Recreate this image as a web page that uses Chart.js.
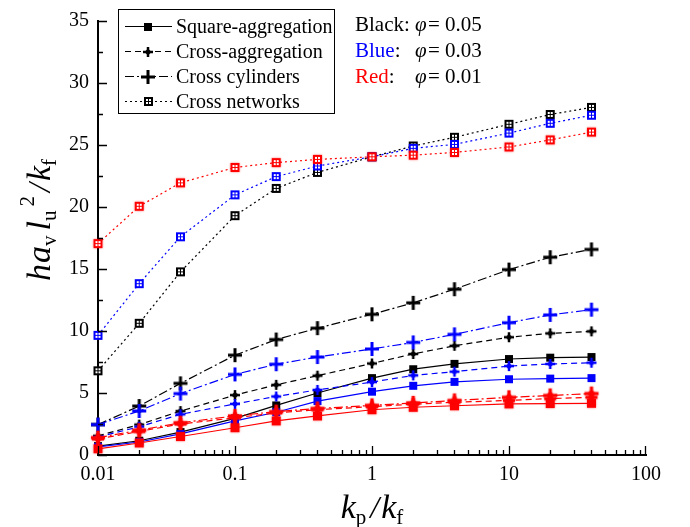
<!DOCTYPE html>
<html>
<head>
<meta charset="utf-8">
<script src="https://cdn.jsdelivr.net/npm/chart.js@4"></script>
<style>
  html, body { margin: 0; padding: 0; background: #fff; }
  canvas { display: block; }
</style>
</head>
<body>
<canvas id="chart" width="690" height="527"></canvas>
<script>
// Conductivity ratio kp/kf (x values shared by every series)
const ratio = [0.01, 0.02, 0.04, 0.1, 0.2, 0.4, 1, 2, 4, 10, 20, 40];

// Square-aggregation
const squareBlack = [0.72, 1.15, 1.85, 2.95, 4.0, 5.0, 6.2, 6.92, 7.35, 7.74, 7.85, 7.9];
const squareBlue  = [0.65, 1.05, 1.7, 2.75, 3.45, 4.35, 5.11, 5.58, 5.9, 6.11, 6.16, 6.2];
const squareRed   = [0.5, 0.97, 1.49, 2.2, 2.75, 3.15, 3.65, 3.85, 3.97, 4.12, 4.15, 4.17];

// Cross-aggregation
const crossAggBlack = [1.55, 2.45, 3.54, 4.83, 5.66, 6.4, 7.38, 8.15, 8.81, 9.5, 9.81, 9.97];
const crossAggBlue  = [1.45, 2.28, 3.28, 4.12, 4.72, 5.25, 5.88, 6.42, 6.72, 7.17, 7.34, 7.44];
const crossAggRed   = [1.3, 1.9, 2.5, 3.0, 3.4, 3.65, 3.9, 4.1, 4.25, 4.4, 4.55, 4.65];

// Cross cylinders
const cylBlack = [2.45, 3.95, 5.78, 8.05, 9.31, 10.23, 11.35, 12.27, 13.37, 14.95, 15.95, 16.58];
const cylBlue  = [2.45, 3.55, 4.95, 6.5, 7.32, 7.9, 8.55, 9.08, 9.73, 10.67, 11.3, 11.72];
const cylRed   = [1.4, 2.0, 2.6, 3.15, 3.5, 3.75, 4.0, 4.2, 4.4, 4.65, 4.8, 4.95];

// Cross networks
const netBlack = [6.79, 10.62, 14.77, 19.3, 21.5, 22.79, 24.05, 24.92, 25.62, 26.67, 27.46, 28.03];
const netBlue  = [9.65, 13.82, 17.6, 20.98, 22.45, 23.31, 24.05, 24.73, 25.05, 25.96, 26.75, 27.4];
const netRed   = [17.05, 20.06, 21.95, 23.19, 23.58, 23.84, 24.05, 24.18, 24.4, 24.84, 25.41, 26.04];

const xTickValues = [0.01, 0.1, 1, 10, 100];
const legendNames = ['Square-aggregation', 'Cross-aggregation', 'Cross cylinders', 'Cross networks'];

const BLACK = '#000000', BLUE = '#0000ff', RED = '#ff0000';
const SERIF = '"Liberation Serif", "Times New Roman", serif';

// ---------- marker images ----------
function makeMarker(size, color, paint) {
  const pad = 3;
  const c = document.createElement('canvas');
  c.width = size + pad * 2;
  c.height = size + pad * 2;
  const g = c.getContext('2d');
  if (color === RED) {
    g.shadowColor = 'rgba(255,0,0,0.55)';
    g.shadowBlur = 2;
  }
  g.fillStyle = color;
  g.translate(pad, pad);
  paint(g, size);
  return c;
}
function squareMarker(color, s) {
  return makeMarker(s, color, (g, s) => g.fillRect(0, 0, s, s));
}
function plusMarker(color, s, t) {
  return makeMarker(s, color, (g, s) => {
    g.fillRect((s - t) / 2, 0, t, s);
    g.fillRect(0, (s - t) / 2, s, t);
  });
}
function starMarker(color, s, t, d) {
  return makeMarker(s, color, (g, s) => {
    const c = s / 2;
    g.fillRect(c - t / 2, 0, t, s);
    g.fillRect(0, c - t / 2, s, t);
    g.beginPath();
    g.moveTo(c, c - d); g.lineTo(c + d, c); g.lineTo(c, c + d); g.lineTo(c - d, c);
    g.closePath();
    g.fill();
  });
}
function netMarker(color, s) {
  return makeMarker(s, color, (g, s) => {
    g.fillRect(0, 0, s, s);
    g.shadowBlur = 0;
    g.fillStyle = '#ffffff';
    g.fillRect(2, 2, 2, 2); g.fillRect(5, 2, 2, 2);
    g.fillRect(2, 5, 2, 2); g.fillRect(5, 5, 2, 2);
  });
}

const markers = {
  square:   { [BLACK]: squareMarker(BLACK, 8), [BLUE]: squareMarker(BLUE, 8), [RED]: squareMarker(RED, 9) },
  crossAgg: { [BLACK]: starMarker(BLACK, 10, 2.5, 3.5), [BLUE]: starMarker(BLUE, 10, 2.5, 3.5), [RED]: starMarker(RED, 12, 3, 4) },
  cyl:      { [BLACK]: plusMarker(BLACK, 14, 3), [BLUE]: plusMarker(BLUE, 14, 3), [RED]: starMarker(RED, 14, 3, 4) },
  net:      { [BLACK]: netMarker(BLACK, 9), [BLUE]: netMarker(BLUE, 9), [RED]: netMarker(RED, 9) }
};
const dashes = { square: [], crossAgg: [6, 4], cyl: [9, 3, 2, 3], net: [2, 3] };

function series(kind, color, values, order) {
  return {
    data: ratio.map((x, i) => ({ x, y: values[i] })),
    borderColor: color,
    borderWidth: 1.2,
    borderDash: dashes[kind],
    pointStyle: markers[kind][color],
    pointRadius: 6,
    fill: false,
    tension: 0,
    clip: false,
    order
  };
}

const datasets = [
  series('net', BLACK, netBlack, 30), series('net', BLUE, netBlue, 20), series('net', RED, netRed, 10),
  series('cyl', BLACK, cylBlack, 31), series('cyl', BLUE, cylBlue, 21), series('cyl', RED, cylRed, 11),
  series('crossAgg', BLACK, crossAggBlack, 32), series('crossAgg', BLUE, crossAggBlue, 22), series('crossAgg', RED, crossAggRed, 12),
  series('square', BLACK, squareBlack, 33), series('square', BLUE, squareBlue, 23), series('square', RED, squareRed, 13)
];

// ---------- decorations: inward ticks, legend box, labels, axis titles ----------
function drawRich(ctx, parts, x, y) {
  // parts: [text, font, dy, dx?]
  let cx = x;
  for (const p of parts) {
    ctx.font = p[1];
    cx += p[3] || 0;
    ctx.fillText(p[0], cx, y + (p[2] || 0));
    cx += ctx.measureText(p[0]).width;
  }
  return cx - x;
}
function richWidth(ctx, parts) {
  let w = 0;
  for (const p of parts) { ctx.font = p[1]; w += (p[3] || 0) + ctx.measureText(p[0]).width; }
  return w;
}

const decorations = {
  id: 'decorations',
  afterDraw(chart) {
    const { ctx, chartArea: a, scales: { x, y } } = chart;
    ctx.save();
    ctx.strokeStyle = '#000';
    ctx.lineWidth = 1.3;
    ctx.setLineDash([]);

    // x ticks (pointing into the plot)
    ctx.beginPath();
    for (let d = 0.01; d < 100; d *= 10) {
      for (let k = 1; k <= 9; k++) {
        const px = Math.round(x.getPixelForValue(k * d)) + 0.5;
        const len = k === 1 ? 9 : 5;
        ctx.moveTo(px, a.bottom); ctx.lineTo(px, a.bottom - len);
      }
    }
    const p100 = Math.round(x.getPixelForValue(100)) - 0.5;
    ctx.moveTo(p100, a.bottom); ctx.lineTo(p100, a.bottom - 9);
    // y ticks
    for (let v = 0; v <= 35; v += 2.5) {
      const py = Math.round(y.getPixelForValue(v)) + 0.5;
      const len = v % 5 === 0 ? 9 : 5;
      ctx.moveTo(a.left, py); ctx.lineTo(a.left + len, py);
    }
    ctx.stroke();

    // legend box
    const bx = 118, by = 9, bw = 216, bh = 104;
    ctx.fillStyle = '#fff';
    ctx.fillRect(bx, by, bw, bh);
    ctx.lineWidth = 1;
    ctx.strokeRect(bx + 0.5, by + 0.5, bw, bh);
    const kinds = ['square', 'crossAgg', 'cyl', 'net'];
    ctx.textBaseline = 'middle';
    kinds.forEach((k, i) => {
      const ry = 26.5 + i * 25;
      ctx.beginPath();
      ctx.setLineDash(dashes[k]);
      ctx.lineWidth = 1.2;
      ctx.moveTo(125, ry); ctx.lineTo(172, ry);
      ctx.stroke();
      ctx.setLineDash([]);
      const m = markers[k][BLACK];
      ctx.drawImage(m, Math.round(148 - m.width / 2), Math.round(ry - m.height / 2));
      ctx.fillStyle = '#000';
      ctx.font = '20px ' + SERIF;
      ctx.fillText(legendNames[i], 176, ry + 1);
    });

    // volume fraction annotation
    ctx.textBaseline = 'alphabetic';
    const rows = [['Black', BLACK, '0.05', 31], ['Blue', BLUE, '0.03', 57], ['Red', RED, '0.01', 83]];
    for (const [name, col, val, base] of rows) {
      ctx.font = '21px ' + SERIF;
      ctx.fillStyle = col;
      ctx.fillText(name, 355, base);
      const w = ctx.measureText(name).width;
      ctx.fillStyle = '#000';
      ctx.fillText(':', 355 + w, base);
      ctx.font = 'italic 21px ' + SERIF;
      ctx.fillText('\u03c6', 415, base);
      ctx.font = '21px ' + SERIF;
      ctx.fillText('=', 428, base);
      ctx.fillText(val, 445, base);
    }

    // x axis title: kp / kf
    const big = 'italic 34px ' + SERIF, sub = '21px ' + SERIF, slash = 'italic 32px ' + SERIF;
    const xParts = [['k', big, 0], ['p', sub, 6], ['/', slash, 0, 4], ['k', big, 0, 2], ['f', sub, 6]];
    const xw = richWidth(ctx, xParts);
    ctx.fillStyle = '#000';
    drawRich(ctx, xParts, (a.left + a.right) / 2 - xw / 2, 518);

    // y axis title: h av lu^2 / kf
    const yParts = [['h', big, 0], ['a', big, 0, 1], ['v', sub, 6], ['l', big, 0, 5], ['u', sub, 6],
                    ['2', sub, -16, 4], ['/', slash, 0, 4], ['k', big, 0, 2], ['f', sub, 6]];
    const yw = richWidth(ctx, yParts);
    ctx.save();
    ctx.translate(50, 220);
    ctx.rotate(-Math.PI / 2);
    drawRich(ctx, yParts, -yw / 2, 0);
    ctx.restore();

    ctx.restore();
  }
};

Chart.defaults.font.family = SERIF;
Chart.defaults.color = '#000';

new Chart(document.getElementById('chart'), {
  type: 'line',
  data: { datasets },
  options: {
    responsive: false,
    animation: false,
    events: [],
    layout: { padding: { top: 10, right: 44, left: 0, bottom: 0 } },
    plugins: { legend: { display: false }, tooltip: { enabled: false } },
    scales: {
      x: {
        type: 'logarithmic',
        min: 0.01,
        max: 100,
        afterBuildTicks: s => { s.ticks = xTickValues.map(v => ({ value: v })); },
        afterFit: s => { s.height = 72; },
        grid: { display: false, drawTicks: false },
        border: { display: true, color: '#000', width: 2 },
        ticks: {
          font: { size: 20 },
          padding: 8,
          maxRotation: 0,
          autoSkip: false,
          callback: v => String(v)
        }
      },
      y: {
        type: 'linear',
        min: 0,
        max: 35,
        afterFit: s => { s.width = 98; },
        grid: { display: false, drawTicks: false },
        border: { display: true, color: '#000', width: 2 },
        ticks: { stepSize: 5, font: { size: 20 }, padding: 9 }
      }
    }
  },
  plugins: [decorations]
});
</script>
</body>
</html>
